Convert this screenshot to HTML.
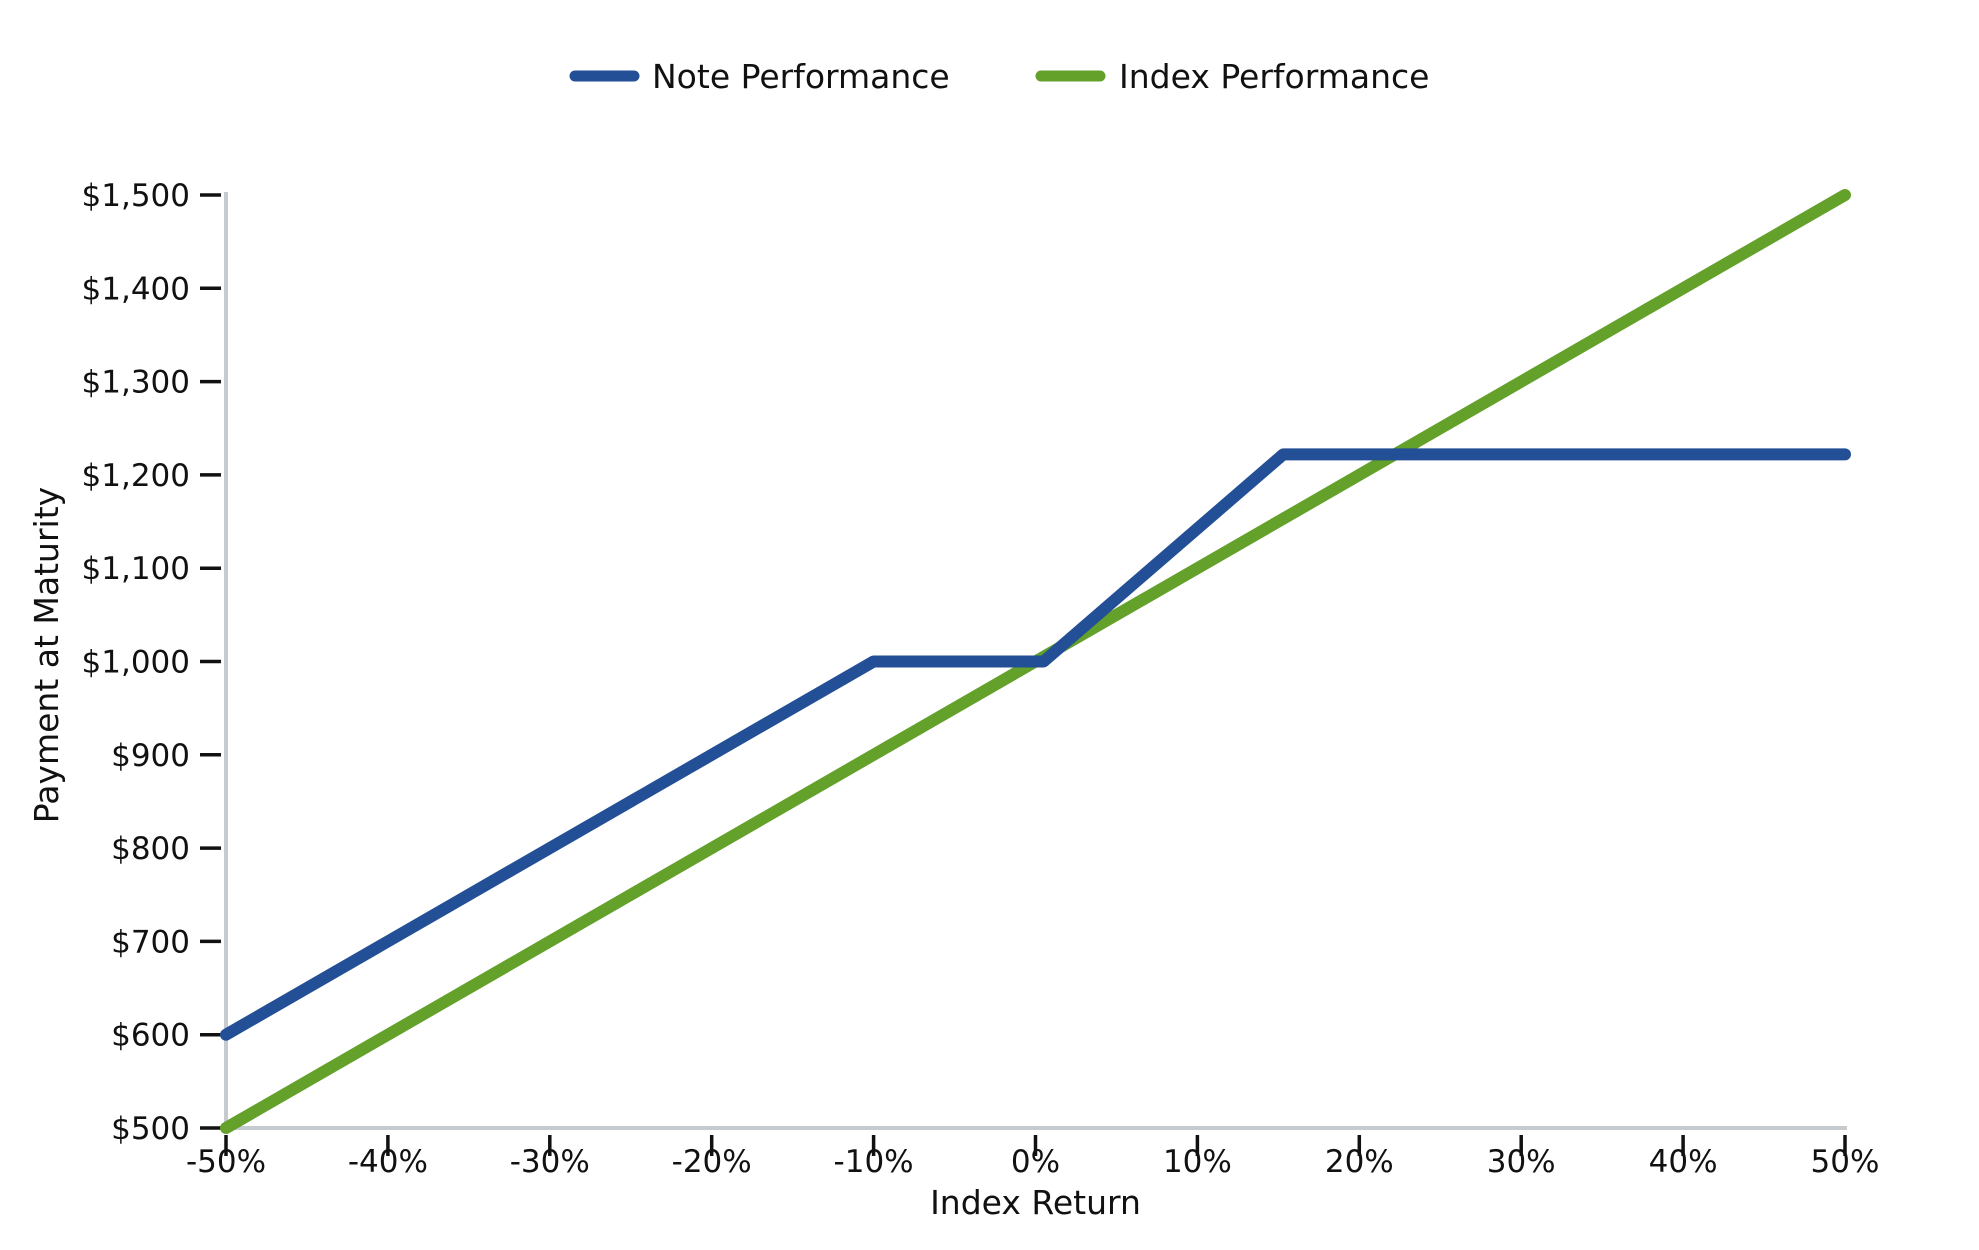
<!DOCTYPE html>
<html><head><meta charset="utf-8"><style>
body{margin:0;background:#fff;}
svg{display:block;font-family:"DejaVu Sans","Liberation Sans",sans-serif;}
</style></head><body>
<svg id="chart" width="1979" height="1250" viewBox="0 0 1979 1250" xmlns="http://www.w3.org/2000/svg">
<g>
  <line x1="575" y1="76" x2="634" y2="76" stroke="#234f96" stroke-width="11" stroke-linecap="round"/>
  <text x="652" y="88" font-size="33" fill="#111">Note Performance</text>
  <line x1="1041" y1="76" x2="1100" y2="76" stroke="#63a12a" stroke-width="11" stroke-linecap="round"/>
  <text x="1119" y="88" font-size="33" fill="#111">Index Performance</text>
</g>
<g id="axes"></g>
<g id="series"></g>
</svg>
<script>
const xTicks = [-50,-40,-30,-20,-10,0,10,20,30,40,50];
const xTickLabels = ["-50%","-40%","-30%","-20%","-10%","0%","10%","20%","30%","40%","50%"];
const yTicks = [500,600,700,800,900,1000,1100,1200,1300,1400,1500];
const yTickLabels = ["$500","$600","$700","$800","$900","$1,000","$1,100","$1,200","$1,300","$1,400","$1,500"];
const noteX = [-50,-10,0.5,15.3,50];
const noteY = [600,1000,1000,1222,1222];
const indexX = [-50,50];
const indexY = [500,1500];

const NS="http://www.w3.org/2000/svg";
const L=226,R=1845,T=195,B=1128;
function sx(v){return L+(v+50)/100*(R-L);}
function sy(v){return B-(v-500)/1000*(B-T);}
function mk(tag,attrs,parent,txt){const e=document.createElementNS(NS,tag);for(const k in attrs)e.setAttribute(k,attrs[k]);if(txt!==undefined)e.textContent=txt;parent.appendChild(e);return e;}
const axes=document.getElementById('axes'), series=document.getElementById('series');
let e;
e=mk('line',{x1:L,y1:T-3,x2:L,y2:B,stroke:'#c6cbd0','stroke-width':4},axes);


e=mk('line',{x1:L,y1:B,x2:R+2,y2:B,stroke:'#c6cbd0','stroke-width':4},axes);


yTicks.forEach((v,i)=>{
  const y=sy(v);
  e=mk('line',{x1:200,y1:y,x2:221,y2:y,stroke:'#111','stroke-width':3.5},axes);
  
  
  e=mk('text',{x:190,y:y+11,'text-anchor':'end','font-size':31,fill:'#111'},axes,yTickLabels[i]);
  
  
});
xTicks.forEach((v,i)=>{
  const x=sx(v);
  e=mk('line',{x1:x,y1:1135,x2:x,y2:1156,stroke:'#111','stroke-width':3.5},axes);
  
  
  e=mk('text',{x:x,y:1172,'text-anchor':'middle','font-size':31,fill:'#111'},axes,xTickLabels[i]);
  
  
});
e=mk('text',{x:(L+R)/2,y:1214,'text-anchor':'middle','font-size':33,fill:'#111'},axes,'Index Return');


e=mk('text',{x:58,y:655,'text-anchor':'middle','font-size':33,fill:'#111',transform:'rotate(-90 58 655)'},axes,'Payment at Maturity');


function path(xs,ys){return xs.map((x,i)=>(i?'L':'M')+sx(x).toFixed(1)+' '+sy(ys[i]).toFixed(1)).join(' ');}
e=mk('path',{d:path(indexX,indexY),fill:'none',stroke:'#63a12a','stroke-width':12,'stroke-linecap':'round','stroke-linejoin':'round'},series);


e=mk('path',{d:path(noteX,noteY),fill:'none',stroke:'#234f96','stroke-width':12,'stroke-linecap':'round','stroke-linejoin':'round'},series);


</script>
</body></html>
